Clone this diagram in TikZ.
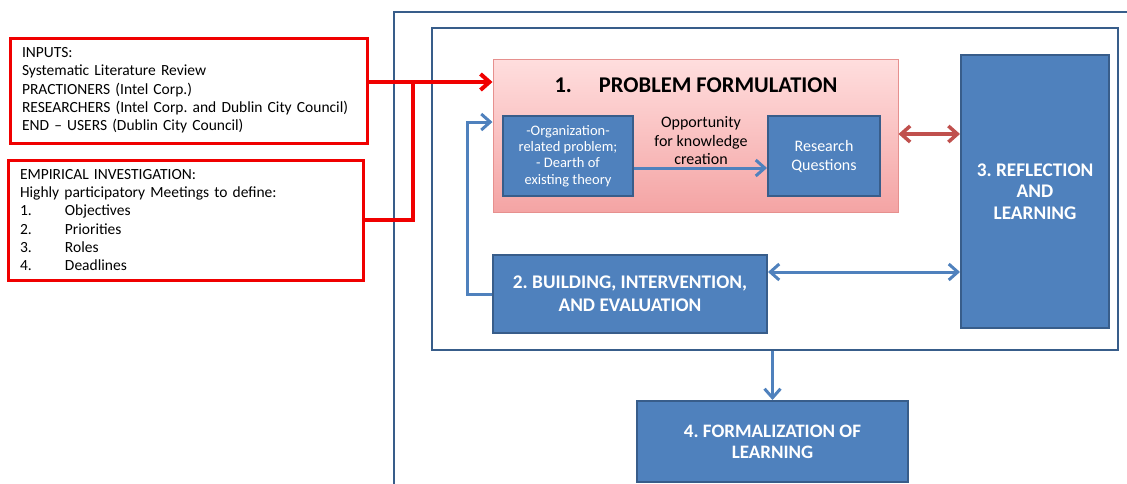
\documentclass[tikz,border=0pt]{standalone}
\usepackage{fontspec}
\setmainfont{Carlito}
\usetikzlibrary{arrows.meta}
\definecolor{boxblue}{HTML}{4F81BD}
\definecolor{edgeblue}{HTML}{385D8A}
\definecolor{pinktop}{HTML}{FFDEDE}
\definecolor{pinkbot}{HTML}{F4A4A4}
\definecolor{pinkedge}{HTML}{E6908E}
\definecolor{linkred}{HTML}{C0504D}
\definecolor{inred}{HTML}{F00000}
\tikzset{
    bluebox/.style={draw=edgeblue, line width=2pt, fill=boxblue, text=white, align=center, inner sep=0pt},
    inbox/.style={draw=inred, line width=3pt, align=left, inner sep=0pt,
        font=\fontsize{15.5}{18.3}\selectfont},
    frame/.style={draw=edgeblue, line width=2pt},
    redline/.style={draw=inred, line width=4pt},
    blueline/.style={draw=boxblue, line width=3pt},
    pairline/.style={draw=linkred, line width=3.5pt}
}
\newcommand{\itemno}[1]{\makebox[45pt][l]{#1}}
\frenchspacing

\begin{document}
\begin{tikzpicture}[x=1pt, y=-1pt, >={Straight Barb[length=9pt,width=16pt]}]
    \useasboundingbox (0,0) rectangle (1127,483);

    % Frames
    \draw[frame] (394,12) rectangle (1160,510);
    \node[frame, minimum width=686pt, minimum height=322pt, inner sep=0pt] (inner) at (775,189) {};

    % Inputs
    \node[inbox, minimum width=357pt, minimum height=105pt, text width=333pt] (inputs) at (188.5,90.5) {
        INPUTS:\\
        Systematic Literature Review\\
        PRACTIONERS (Intel Corp.)\\
        RESEARCHERS (Intel Corp. and Dublin City Council)\\
        END -- USERS (Dublin City Council)};
    \node[inbox, minimum width=355pt, minimum height=120pt, text width=331pt] (empirical) at (185.5,220) {
        EMPIRICAL INVESTIGATION:\\
        Highly participatory Meetings to define:\\
        \itemno{1.}Objectives\\
        \itemno{2.}Priorities\\
        \itemno{3.}Roles\\
        \itemno{4.}Deadlines};

    % Problem formulation
    \node[draw=pinkedge, line width=1pt, top color=pinktop, bottom color=pinkbot,
        minimum width=405pt, minimum height=153pt] (pf) at (695.5,135.5) {};
    \node[font=\bfseries\fontsize{22.5}{26}\selectfont] (pftitle) at (696,85) {1.\hspace{27pt}PROBLEM FORMULATION};
    \node[bluebox, minimum width=130pt, minimum height=80pt, font=\fontsize{14.5}{16.4}\selectfont] (orgprob) at (568,156)
        {-Organization-\\related problem;\\- Dearth of\\existing theory};
    \node[bluebox, minimum width=112pt, minimum height=80pt, font=\fontsize{16}{19}\selectfont] (rq) at (824,156)
        {Research\\Questions};
    \node[align=center, font=\fontsize{16}{18.5}\selectfont] (opp) at (701,141) {Opportunity\\for knowledge\\creation};

    % Other stages
    \node[bluebox, minimum width=148pt, minimum height=273pt, font=\bfseries\fontsize{19.3}{21.5}\selectfont] (reflect) at (1035,191.5)
        {3. REFLECTION\\AND\\LEARNING};
    \node[bluebox, minimum width=274pt, minimum height=78pt, font=\bfseries\fontsize{19.3}{23}\selectfont] (build) at (630,294)
        {2. BUILDING, INTERVENTION,\\AND EVALUATION};
    \node[bluebox, minimum width=271pt, minimum height=81pt, font=\bfseries\fontsize{19}{21}\selectfont] (formal) at (772.5,441.5)
        {4. FORMALIZATION OF\\LEARNING};

    % Rows of the connectors
    \coordinate (redjoin) at (413,82);
    \coordinate (opprow) at (0,168);
    \coordinate (pairrow) at (0,134);
    \coordinate (buildrow) at (0,272);
    \coordinate (backturn) at (467,122);

    % Red inputs
    \draw[redline, ->] (inputs.east |- redjoin) -- (pf.west |- redjoin);
    \draw[redline] (empirical.east) -| (redjoin);

    % Blue connectors
    \draw[blueline, ->] (orgprob.east |- opprow) -- (rq.west |- opprow);
    \draw[blueline, ->] (build.west) -| (backturn) -- (pf.west |- backturn);
    \draw[blueline, <->] (build.east |- buildrow) -- (reflect.west |- buildrow);
    \draw[blueline, ->] (formal.north |- inner.south) -- (formal.north);
    \draw[pairline, <->] (pf.east |- pairrow) -- (reflect.west |- pairrow);
\end{tikzpicture}
\end{document}
